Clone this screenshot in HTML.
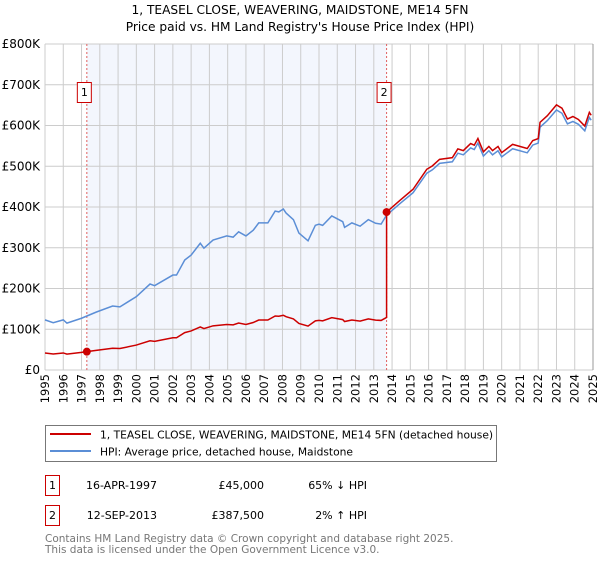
<!DOCTYPE html>
<html><head><meta charset="utf-8"><style>
body{margin:0;background:#fff;font-family:"DejaVu Sans","Liberation Sans",sans-serif;}
</style></head><body>
<svg id="chart" width="600" height="560" xmlns="http://www.w3.org/2000/svg" font-family="DejaVu Sans, Liberation Sans, sans-serif">
<text x="300" y="14" text-anchor="middle" font-size="12.2">1, TEASEL CLOSE, WEAVERING, MAIDSTONE, ME14 5FN</text>
<text x="300" y="31" text-anchor="middle" font-size="12.2">Price paid vs. HM Land Registry's House Price Index (HPI)</text>
<g id="plot"></g>
<g>
<rect x="45.5" y="425.5" width="451" height="36" fill="#fff" stroke="#777"/>
<line x1="50" y1="434" x2="91" y2="434" stroke="#cc0000" stroke-width="2"/>
<text x="100" y="438.5" font-size="10.7">1, TEASEL CLOSE, WEAVERING, MAIDSTONE, ME14 5FN (detached house)</text>
<line x1="50" y1="451" x2="91" y2="451" stroke="#5b8ed6" stroke-width="2"/>
<text x="100" y="455.5" font-size="10.7">HPI: Average price, detached house, Maidstone</text>
</g>
<g font-size="11">
<rect x="45.5" y="475.5" width="14" height="20" fill="#fff" stroke="#cc0000"/>
<text x="52.5" y="489" text-anchor="middle">1</text>
<text x="157" y="489" text-anchor="end">16-APR-1997</text>
<text x="264" y="489" text-anchor="end">£45,000</text>
<text x="367" y="489" text-anchor="end">65% ↓ HPI</text>
<rect x="45.5" y="505.5" width="14" height="20" fill="#fff" stroke="#cc0000"/>
<text x="52.5" y="519" text-anchor="middle">2</text>
<text x="157" y="519" text-anchor="end">12-SEP-2013</text>
<text x="264" y="519" text-anchor="end">£387,500</text>
<text x="367" y="519" text-anchor="end">2% ↑ HPI</text>
</g>
<g font-size="10.5" fill="#777">
<text x="45" y="542">Contains HM Land Registry data © Crown copyright and database right 2025.</text>
<text x="45" y="553">This data is licensed under the Open Government Licence v3.0.</text>
</g>
</svg>
<script>
const hpiDates=[1995,1995.45,1996,1996.2,1997,1997.8,1998.7,1999.1,2000,2000.75,2001,2002,2002.2,2002.65,2003,2003.5,2003.7,2004.2,2004.95,2005.3,2005.6,2006,2006.4,2006.7,2007.2,2007.6,2007.8,2008.05,2008.2,2008.6,2008.9,2009.4,2009.8,2010,2010.2,2010.7,2011.3,2011.4,2011.8,2012.25,2012.7,2013.1,2013.4,2013.7,2014.45,2015.15,2015.9,2016.2,2016.6,2017.3,2017.6,2017.9,2018.3,2018.5,2018.7,2019,2019.3,2019.5,2019.8,2020,2020.3,2020.6,2021.4,2021.7,2022,2022.1,2022.5,2023,2023.3,2023.6,2023.9,2024.2,2024.55,2024.8,2024.9];
const hpiValues=[123,116,123,115,127,142,157,155,180,211,207,233,233,270,282,311,299,319,329,326,339,329,343,361,361,390,388,395,385,369,336,317,355,358,355,378,364,350,361,353,369,360,358,380,409,435,483,491,507,511,532,528,545,541,557,525,538,528,538,523,533,543,533,552,557,596,612,638,630,604,610,603,587,620,613];
const saleDates=[1997.29,2013.70];
const salePrices=[45,387.5];
const saleLabels=["1","2"];
const yTicks=[0,100,200,300,400,500,600,700,800];
const yTickLabels=["£0","£100K","£200K","£300K","£400K","£500K","£600K","£700K","£800K"];
const xYears=[1995,1996,1997,1998,1999,2000,2001,2002,2003,2004,2005,2006,2007,2008,2009,2010,2011,2012,2013,2014,2015,2016,2017,2018,2019,2020,2021,2022,2023,2024,2025];

const X0=45,X1=593,Y0=370,Y1=44;
const xs=t=>X0+(t-1995)/30*(X1-X0);
const ys=v=>Y0-v/800*(Y0-Y1);
const NS="http://www.w3.org/2000/svg";
const plot=document.getElementById('plot');
function mk(tag,attrs,parent){const e=document.createElementNS(NS,tag);for(const k in attrs)e.setAttribute(k,attrs[k]);(parent||plot).appendChild(e);return e;}
function hpiAt(t){for(let i=0;i<hpiDates.length-1;i++){if(t<=hpiDates[i+1]){const f=(t-hpiDates[i])/(hpiDates[i+1]-hpiDates[i]);return hpiValues[i]+f*(hpiValues[i+1]-hpiValues[i]);}}return hpiValues[hpiValues.length-1];}

let sh=mk('rect',{x:xs(saleDates[0]),y:Y1,width:xs(saleDates[1])-xs(saleDates[0]),height:Y0-Y1,fill:'#f3f6fd'});


xYears.forEach(yr=>{const l=mk('line',{x1:xs(yr),x2:xs(yr),y1:Y1,y2:Y0,stroke:'#ccc','stroke-width':1});


const tx=mk('text',{x:0,y:0,'font-size':'11.5',transform:`translate(${xs(yr)+4},${Y0+4}) rotate(-90)`,'text-anchor':'end'});


tx.textContent=yr;});
yTicks.forEach((v,i)=>{const l=mk('line',{x1:X0,x2:X1,y1:ys(v),y2:ys(v),stroke:'#ccc','stroke-width':1});


const tx=mk('text',{x:40,y:ys(v)+4,'font-size':'12','text-anchor':'end'});


tx.textContent=yTickLabels[i];});
const rb=mk('line',{x1:X1,x2:X1,y1:Y1,y2:Y0,stroke:'#999','stroke-width':1});



saleDates.forEach((d,i)=>{const l=mk('line',{x1:xs(d),x2:xs(d),y1:Y1,y2:Y0,stroke:'#e06060','stroke-dasharray':'2,2','stroke-width':1});


const b=mk('rect',{x:xs(d)-9.5,y:82.5,width:14,height:20,fill:'#fff',stroke:'#cc0000'});


const t=mk('text',{x:xs(d)-2.5,y:96,'font-size':'11','text-anchor':'middle'});


t.textContent=saleLabels[i];});

const hp=mk('polyline',{points:hpiDates.map((t,i)=>xs(t)+','+ys(hpiValues[i])).join(' '),fill:'none',stroke:'#5b8ed6','stroke-width':1.5});



const pts=[];
const allT=hpiDates.concat(saleDates).sort((a,b)=>a-b);
allT.forEach(t=>{let k=0;for(let j=0;j<saleDates.length;j++)if(t>=saleDates[j])k=j;
 const v=salePrices[k]*hpiAt(t)/hpiAt(saleDates[k]);
 if(k===1&&Math.abs(t-saleDates[1])<1e-9){pts.push(xs(t)+','+ys(salePrices[0]*hpiAt(t)/hpiAt(saleDates[0])));}
 pts.push(xs(t)+','+ys(v));});
const pl=mk('polyline',{points:pts.join(' '),fill:'none',stroke:'#cc0000','stroke-width':1.5});


saleDates.forEach((d,i)=>{const c=mk('circle',{cx:xs(d),cy:ys(salePrices[i]),r:4,fill:'#cc0000'});

});
</script>
</body></html>
